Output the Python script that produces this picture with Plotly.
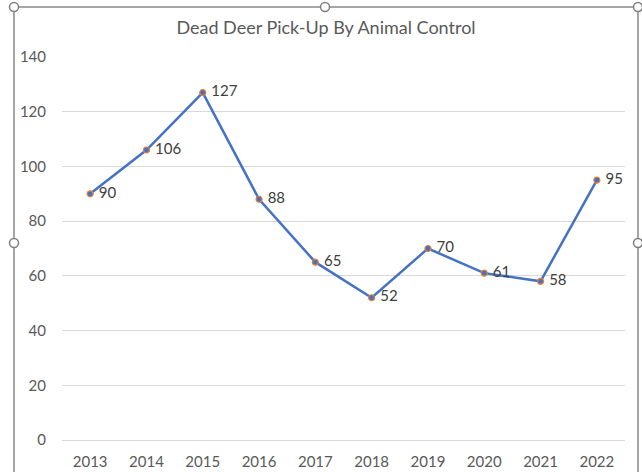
import plotly.graph_objects as go

years = ["2013", "2014", "2015", "2016", "2017", "2018", "2019", "2020", "2021", "2022"]
pickups = [90, 106, 127, 88, 65, 52, 70, 61, 58, 95]
y_ticks = [0, 20, 40, 60, 80, 100, 120, 140]

W, H = 642, 472
L, R, T, B = 62, 17, 57, 32
PW, PH = W - L - R, H - T - B
FONT = "Lato, Liberation Sans, sans-serif"


def px(x):
    return (x - L) / PW


def py(y):
    return (H - B - y) / PH


fig = go.Figure()
fig.add_trace(go.Scatter(
    x=years, y=pickups,
    mode="lines+markers+text",
    line=dict(color="#4472C4", width=2.5),
    marker=dict(size=6, color="#4472C4", line=dict(color="#ED7D31", width=1.2)),
    text=["\u00a0" + str(v) for v in pickups],
    textposition="middle right",
    textfont=dict(family=FONT, size=15, color="#404040"),
    cliponaxis=False,
    showlegend=False,
))

shapes = []
border = dict(color="#A6A6A6", width=2)
shapes.append(dict(type="line", xref="paper", yref="paper", x0=px(14), x1=px(14), y0=py(7), y1=py(480), line=border, layer="above"))
shapes.append(dict(type="line", xref="paper", yref="paper", x0=px(638), x1=px(638), y0=py(7), y1=py(480), line=border, layer="above"))
shapes.append(dict(type="line", xref="paper", yref="paper", x0=px(14), x1=px(638), y0=py(7), y1=py(7), line=border, layer="above"))
for hx, hy in [(14, 7), (325, 7), (638, 7), (14, 243), (638, 243)]:
    r = 4.5
    shapes.append(dict(type="circle", xref="paper", yref="paper",
                       x0=px(hx - r), x1=px(hx + r), y0=py(hy + r), y1=py(hy - r),
                       fillcolor="white", line=dict(color="#7F7F7F", width=1.5), layer="above"))

fig.update_layout(
    width=W, height=H,
    margin=dict(l=L, r=R, t=T, b=B, autoexpand=False),
    paper_bgcolor="white", plot_bgcolor="white",
    font=dict(family=FONT, size=15, color="#595959"),
    title=dict(text="Dead Deer Pick-Up By Animal Control", x=px(326), xref="paper", xanchor="center",
               y=1 - 28 / H, yanchor="middle",
               font=dict(family=FONT, size=18, color="#595959")),
    xaxis=dict(type="category", range=[-0.5, 9.5], showgrid=False, showline=False, zeroline=False,
               ticks="", ticklabelstandoff=11, tickfont=dict(size=15, color="#595959")),
    yaxis=dict(range=[0, 140], tickvals=y_ticks, showgrid=True, gridcolor="#D9D9D9", gridwidth=1,
               zeroline=True, zerolinecolor="#D9D9D9", zerolinewidth=1, showline=False,
               ticks="", ticklabelstandoff=15, tickfont=dict(size=15, color="#595959")),
    shapes=shapes,
)

fig.write_html("out.html", config={"displayModeBar": False},
               post_script="document.body.style.margin='0';document.body.style.overflow='hidden';")
